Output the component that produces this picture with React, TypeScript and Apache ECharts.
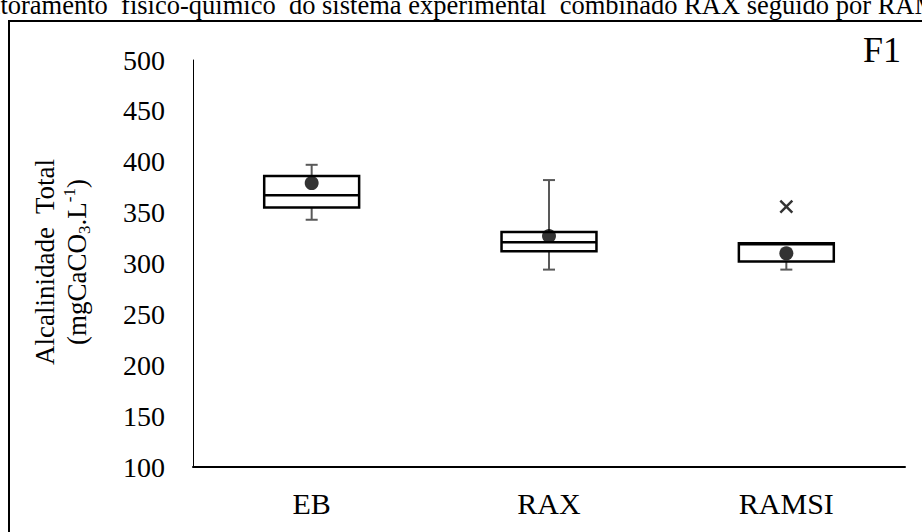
import React, { useEffect, useRef } from "react";
import * as echarts from "echarts";

const categories = ["EB", "RAX", "RAMSI"];
const whiskerMin = [343, 294, 294];
const q1 = [355, 312, 302];
const median = [367, 321, 319];
const q3 = [386, 331, 320];
const whiskerMax = [397, 382, 320];
const means = [379, 327, 310];
const outlierCategory = ["RAMSI"];
const outlierValue = [356];
const yTicks = [100, 150, 200, 250, 300, 350, 400, 450, 500];

const FONT = "'Liberation Serif', 'Times New Roman', serif";

export default function App() {
  const ref = useRef<HTMLDivElement>(null);
  useEffect(() => {
    if (!ref.current) return;
    const chart = echarts.init(ref.current, null, { renderer: "svg" });
    const boxData = categories.map((c, i) => [i, whiskerMin[i], q1[i], median[i], q3[i], whiskerMax[i]]);
    chart.setOption({
      animation: false,
      backgroundColor: "#fff",
      grid: { left: 193, right: 17, top: 60, bottom: 65, containLabel: false },
      xAxis: {
        type: "category",
        data: categories,
        boundaryGap: true,
        axisLine: { lineStyle: { color: "#000", width: 2 } },
        axisTick: { show: false },
        axisLabel: { color: "#000", fontFamily: FONT, fontSize: 30, margin: 21 },
        splitLine: { show: false },
      },
      yAxis: {
        type: "value",
        min: yTicks[0],
        max: yTicks[yTicks.length - 1],
        interval: 50,
        axisLine: { show: true, lineStyle: { color: "#000", width: 1 } },
        axisTick: { show: false },
        splitLine: { show: false },
        axisLabel: { color: "#000", fontFamily: FONT, fontSize: 28, margin: 28 },
      },
      graphic: [
        {
          type: "rect",
          shape: { x: 9, y: 21, width: 1000, height: 600 },
          style: { fill: "none", stroke: "#000", lineWidth: 2 },
          silent: true,
          z: -1,
        },
        {
          type: "text",
          x: -57,
          y: 5,
          style: {
            text: "Monitoramento  físico-químico  do sistema experimental  combinado RAX seguido por RAMSI",
            font: `26.5px ${FONT}`,
            fill: "#000",
            align: "left",
            verticalAlign: "middle",
          },
        },
        {
          type: "text",
          x: 901,
          y: 50,
          style: {
            text: "F1",
            font: `36px ${FONT}`,
            fill: "#000",
            align: "right",
            verticalAlign: "middle",
          },
        },
        {
          type: "text",
          x: 61,
          y: 262,
          rotation: Math.PI / 2,
          style: {
            text: "Alcalinidade  Total\n(mgCaCO{sub|3}.L{sup|-1})",
            font: `27px ${FONT}`,
            fill: "#000",
            align: "center",
            verticalAlign: "middle",
            lineHeight: 32,
            rich: {
              sub: { fontSize: 17, fontFamily: FONT, verticalAlign: "bottom", lineHeight: 32 },
              sup: { fontSize: 17, fontFamily: FONT, verticalAlign: "top", lineHeight: 32 },
            },
          },
        },
      ],
      series: [
        {
          type: "custom",
          data: boxData,
          encode: { x: 0, y: [1, 2, 3, 4, 5] },
          z: 2,
          renderItem: (params: any, api: any) => {
            const idx = api.value(0);
            const pMin = api.coord([idx, api.value(1)]);
            const pQ1 = api.coord([idx, api.value(2)]);
            const pMed = api.coord([idx, api.value(3)]);
            const pQ3 = api.coord([idx, api.value(4)]);
            const pMax = api.coord([idx, api.value(5)]);
            const band = api.size([1, 0])[0];
            const halfW = band * 0.2;
            const cap = 6;
            const cx = pMed[0];
            const grey = { stroke: "#595959", lineWidth: 2 };
            return {
              type: "group",
              children: [
                { type: "line", shape: { x1: cx, y1: pMax[1], x2: cx, y2: pQ3[1] }, style: grey },
                { type: "line", shape: { x1: cx - cap, y1: pMax[1], x2: cx + cap, y2: pMax[1] }, style: grey },
                { type: "line", shape: { x1: cx, y1: pQ1[1], x2: cx, y2: pMin[1] }, style: grey },
                { type: "line", shape: { x1: cx - cap, y1: pMin[1], x2: cx + cap, y2: pMin[1] }, style: grey },
                {
                  type: "rect",
                  shape: { x: cx - halfW, y: pQ3[1], width: halfW * 2, height: pQ1[1] - pQ3[1] },
                  style: { fill: "#fff", stroke: "#000", lineWidth: 2.5 },
                },
                {
                  type: "line",
                  shape: { x1: cx - halfW, y1: pMed[1], x2: cx + halfW, y2: pMed[1] },
                  style: { stroke: "#000", lineWidth: 2.5 },
                },
              ],
            };
          },
        },
        {
          type: "scatter",
          data: categories.map((c, i) => [c, means[i]]),
          symbol: "circle",
          symbolSize: 14,
          itemStyle: { color: "#000" },
          z: 5,
        },
        {
          type: "scatter",
          data: outlierCategory.map((c, i) => [c, outlierValue[i]]),
          symbol: "path://M0,0L10,10M10,0L0,10",
          symbolSize: 12,
          itemStyle: { color: "none", borderColor: "#000", borderWidth: 2.5 },
          z: 5,
        },
      ],
    });
    return () => chart.dispose();
  }, []);
  return (
    <div
      ref={ref}
      style={{ position: "fixed", left: 0, top: 0, width: 922, height: 532, background: "#fff" }}
    />
  );
}
